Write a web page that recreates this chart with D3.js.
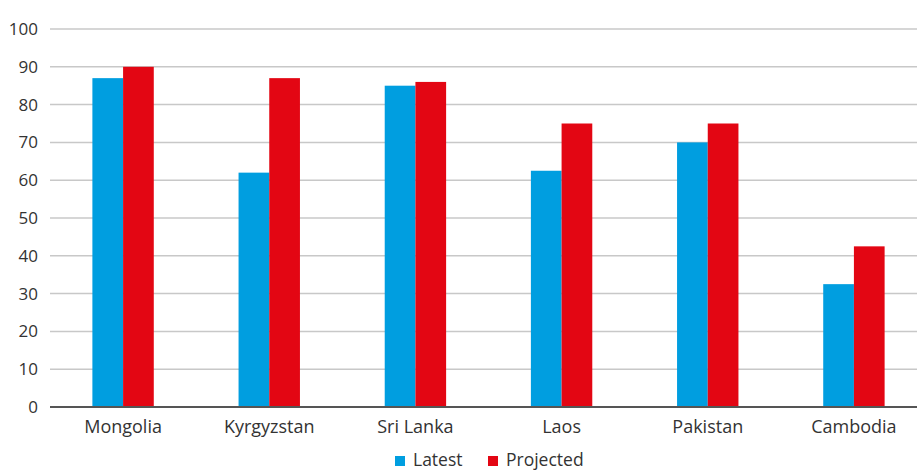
<!DOCTYPE html>
<html>
<head>
<meta charset="utf-8">
<script src="https://cdn.jsdelivr.net/npm/d3@7"></script>
<style>
  body { margin: 0; background: #fff; }
  svg { display: block; font-family: "Open Sans", Lato, sans-serif; }
</style>
</head>
<body>
<svg id="chart" width="917" height="471"></svg>
<script>
const categories = ["Mongolia", "Kyrgyzstan", "Sri Lanka", "Laos", "Pakistan", "Cambodia"];
const seriesNames = ["Latest", "Projected"];
const latest = [87, 62, 85, 62.5, 70, 32.5];
const projected = [90, 87, 86, 75, 75, 42.5];
const yTicks = [0, 10, 20, 30, 40, 50, 60, 70, 80, 90, 100];
const colors = ["#009EE0", "#E30613"];

(function () {
const svg = d3.select("#chart");
const mLeft = 50, mRight = 927, mTop = 29, mBottom = 407;
const font = "'Open Sans', sans-serif";

const x = d3.scaleBand().domain(categories).range([mLeft, mRight]).paddingInner(0).paddingOuter(0);
const y = d3.scaleLinear().domain([0, 100]).range([mBottom, mTop]);
const barW = x.bandwidth() * 0.21;

// gridlines
svg.append("g").selectAll("line").data(yTicks.filter(d => d > 0)).join("line")
  .attr("x1", mLeft).attr("x2", 917)
  .attr("y1", d => y(d)).attr("y2", d => y(d))
  .attr("stroke", "#c8c8c8").attr("stroke-width", 1.5);

// y axis labels
const yAxis = d3.axisLeft(y).tickValues(yTicks).tickSize(0).tickPadding(12);
const gy = svg.append("g").attr("transform", `translate(${mLeft},0)`).call(yAxis);
gy.select(".domain").remove();
gy.selectAll("text").attr("font-size", 17).attr("fill", "#333").style("font-family", font);

// bars
const data = [latest, projected];
data.forEach((vals, si) => {
  svg.append("g").selectAll("rect").data(vals).join("rect")
    .attr("x", (d, i) => x(categories[i]) + x.bandwidth() / 2 + (si - 1) * barW)
    .attr("width", barW)
    .attr("y", d => y(d))
    .attr("height", d => y(0) - y(d))
    .attr("fill", colors[si]);
});

// x axis
const xAxis = d3.axisBottom(x).tickSize(0).tickPadding(13);
const gx = svg.append("g").attr("transform", `translate(0,${mBottom})`).call(xAxis);
gx.select(".domain").remove();
gx.selectAll("text").attr("font-size", 18).attr("fill", "#333").style("font-family", font);
svg.append("line").attr("x1", mLeft).attr("x2", 917).attr("y1", mBottom).attr("y2", mBottom)
  .attr("stroke", "#555").attr("stroke-width", 2);

// legend
const legendX = [395, 488];
const lg = svg.append("g");
seriesNames.forEach((n, i) => {
  lg.append("rect").attr("x", legendX[i]).attr("y", 456).attr("width", 10).attr("height", 10).attr("fill", colors[i]);
  lg.append("text").attr("x", legendX[i] + 18).attr("y", 466).attr("font-size", 17.5).attr("fill", "#333")
    .style("font-family", font).text(n);
});
})();
</script>
</body>
</html>
